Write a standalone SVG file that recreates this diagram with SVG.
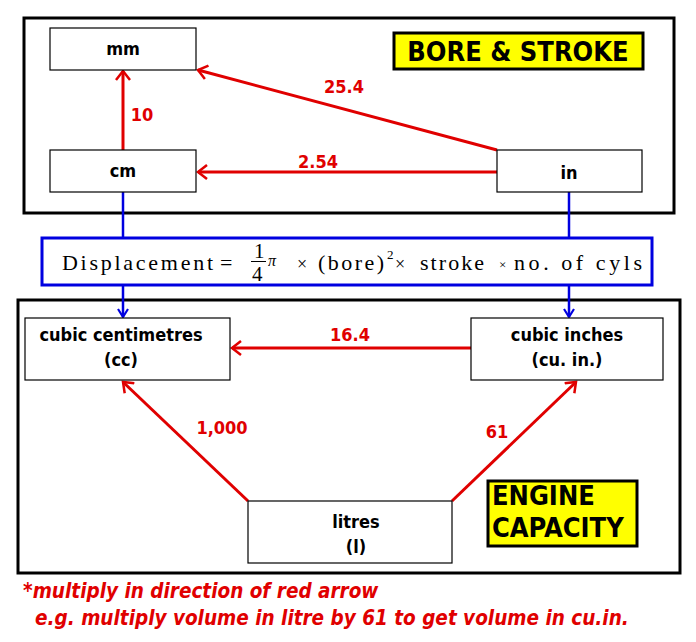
<svg xmlns="http://www.w3.org/2000/svg" width="696" height="642" viewBox="0 0 696 642">
<style>
.frame{fill:none;stroke:#000;stroke-width:3}
.box{fill:#fff;stroke:#000;stroke-width:1.2}
.lbl{font-family:"DejaVu Sans Condensed","DejaVu Sans",sans-serif;font-weight:bold;font-size:18px;fill:#000;text-anchor:middle}
.title{font-family:"DejaVu Sans Condensed","DejaVu Sans",sans-serif;font-weight:bold;font-size:27px;fill:#000}
.num{font-family:"DejaVu Sans Condensed","DejaVu Sans",sans-serif;font-weight:bold;font-size:18px;fill:#e00000;text-anchor:middle}
.red{stroke:#e00000;stroke-width:3;fill:none}
.blue{stroke:#0000e0;stroke-width:2.5;fill:none}
.f{font-family:"Liberation Serif","Times New Roman",serif;fill:#000}
.note{font-family:"DejaVu Sans Condensed","DejaVu Sans",sans-serif;font-weight:bold;font-style:italic;font-size:20.5px;fill:#e00000}
</style>
<defs>
<marker id="ra" markerWidth="14" markerHeight="16" refX="10" refY="8" orient="auto" markerUnits="userSpaceOnUse">
<path d="M1,1 L10,8 L1,15" fill="none" stroke="#e00000" stroke-width="2.5"/>
</marker>
<marker id="ba" markerWidth="14" markerHeight="12" refX="11" refY="6" orient="auto" markerUnits="userSpaceOnUse">
<path d="M3,1 L11,6 L3,11" fill="none" stroke="#0000e0" stroke-width="2.2"/>
</marker>
</defs>
<rect width="696" height="642" fill="#fff"/>
<rect class="frame" x="24" y="18" width="650" height="195"/>
<rect class="frame" x="18" y="300" width="662" height="273"/>

<g id="connectors">
<line class="red" x1="123" y1="150" x2="123" y2="71" marker-end="url(#ra)"/>
<line class="red" x1="497" y1="150" x2="198" y2="70" marker-end="url(#ra)"/>
<line class="red" x1="497" y1="172" x2="198" y2="172" marker-end="url(#ra)"/>
<line class="red" x1="471" y1="348" x2="232" y2="348" marker-end="url(#ra)"/>
<line class="red" x1="248" y1="501" x2="123" y2="382" marker-end="url(#ra)"/>
<line class="red" x1="452" y1="501" x2="576" y2="382" marker-end="url(#ra)"/>
<line class="blue" x1="123" y1="192" x2="123" y2="237"/>
<line class="blue" x1="569" y1="192" x2="569" y2="237"/>
<line class="blue" x1="123" y1="285" x2="123" y2="317" marker-end="url(#ba)"/>
<line class="blue" x1="569" y1="285" x2="569" y2="317" marker-end="url(#ba)"/>
<text class="num" x="142" y="121">10</text>
<text class="num" x="344" y="93">25.4</text>
<text class="num" x="318" y="168">2.54</text>
<text class="num" x="350" y="341">16.4</text>
<text class="num" x="222" y="434">1,000</text>
<text class="num" x="497" y="438">61</text>
</g>

<g id="mm"><rect class="box" x="50" y="28" width="146" height="42"/><text class="lbl" x="123" y="55">mm</text></g>
<g id="cm"><rect class="box" x="50" y="150" width="146" height="42"/><text class="lbl" x="123" y="177">cm</text></g>
<g id="in"><rect class="box" x="497" y="150" width="145" height="42"/><text class="lbl" x="569" y="179">in</text></g>
<g id="bore-stroke"><rect x="394" y="33" width="249" height="36" fill="#ffff00" stroke="#000" stroke-width="3"/><text class="title" x="518" y="61" text-anchor="middle">BORE &amp; STROKE</text></g>

<g id="formula">
<rect x="42" y="238" width="610" height="47" fill="#fff" stroke="#0000e0" stroke-width="3"/>
<text class="f" x="62" y="270" style="font-size:22px" textLength="151" lengthAdjust="spacing">Displacement</text>
<text class="f" x="220" y="270" style="font-size:22px">=</text>
<text class="f" x="254" y="258" style="font-size:21px">1</text>
<line x1="251" y1="261.5" x2="266" y2="261.5" stroke="#000" stroke-width="1"/>
<text class="f" x="252" y="281" style="font-size:21px">4</text>
<text class="f" x="268" y="266" style="font-size:16px;font-style:italic">π</text>
<text class="f" x="297" y="270" style="font-size:18px">×</text>
<text class="f" x="318" y="270" style="font-size:22px" textLength="66" lengthAdjust="spacing">(bore)</text>
<text class="f" x="387" y="259" style="font-size:13px">2</text>
<text class="f" x="395" y="270" style="font-size:18px">×</text>
<text class="f" x="420" y="270" style="font-size:22px" textLength="64" lengthAdjust="spacing">stroke</text>
<text class="f" x="499" y="269" style="font-size:13px">×</text>
<text class="f" x="514" y="270" style="font-size:22px" textLength="128" lengthAdjust="spacing">no. of cyls</text>
</g>

<g id="cc"><rect class="box" x="25" y="318" width="205" height="62"/><text class="lbl" x="121" y="341">cubic centimetres</text><text class="lbl" x="121" y="366">(cc)</text></g>
<g id="cuin"><rect class="box" x="471" y="318" width="192" height="62"/><text class="lbl" x="567" y="341">cubic inches</text><text class="lbl" x="567" y="366">(cu. in.)</text></g>
<g id="litres"><rect class="box" x="248" y="501" width="204" height="62"/><text class="lbl" x="356" y="528">litres</text><text class="lbl" x="356" y="553">(l)</text></g>
<g id="engine-capacity"><rect x="488" y="481" width="149" height="65" fill="#ffff00" stroke="#000" stroke-width="3"/><text class="title" x="492" y="505">ENGINE</text><text class="title" x="492" y="537">CAPACITY</text></g>

<text class="note" x="23" y="598">*multiply in direction of red arrow</text>
<text class="note" x="35" y="625">e.g. multiply volume in litre by 61 to get volume in cu.in.</text>
</svg>
